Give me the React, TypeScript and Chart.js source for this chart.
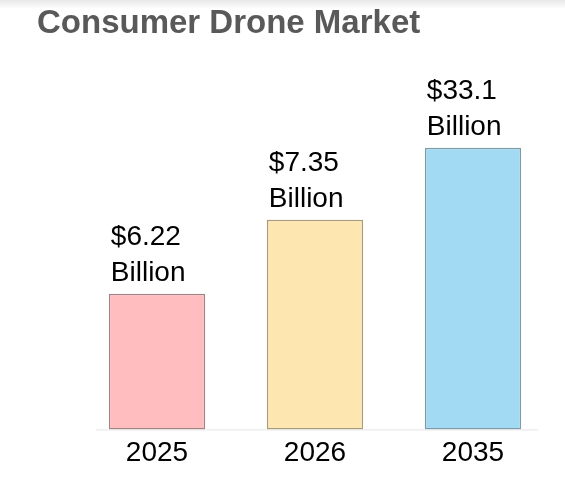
import React, { useEffect, useRef } from 'react';
import { Chart, registerables, Plugin } from 'chart.js';

Chart.register(...registerables);

// the reference does not draw bars to scale, so heights are read off the picture (tallest = 100)
const years = ['2025', '2026', '2035'];
const barHeights = [48.2, 74.5, 100];
const marketValues = ['$6.22', '$7.35', '$33.1'];
const valueUnit = 'Billion';

const fillColors = ['#ffbdc0', '#fee6b0', '#a2daf4'];
const borderColors = ['#a08484', '#a89b7c', '#7f9ba8'];

const FONT = '"Liberation Sans", Arial, sans-serif';

const valueLabels: Plugin<'bar'> = {
  id: 'valueLabels',
  beforeDraw(chart) {
    const { ctx, width } = chart;
    const g = ctx.createLinearGradient(0, 0, 0, 9);
    g.addColorStop(0, 'rgba(0,0,0,0.09)');
    g.addColorStop(1, 'rgba(0,0,0,0)');
    ctx.save();
    ctx.fillStyle = g;
    ctx.fillRect(0, 0, width, 9);
    ctx.restore();
  },
  beforeDatasetsDraw(chart) {
    const { ctx, chartArea } = chart;
    ctx.save();
    ctx.strokeStyle = '#e6e6e6';
    ctx.lineWidth = 1;
    ctx.beginPath();
    ctx.moveTo(chartArea.left + 18, chartArea.bottom + 0.5);
    ctx.lineTo(chartArea.right - 14, chartArea.bottom + 0.5);
    ctx.stroke();
    ctx.restore();
  },
  afterDatasetsDraw(chart) {
    const { ctx } = chart;
    const meta = chart.getDatasetMeta(0);
    ctx.save();
    ctx.fillStyle = '#000';
    ctx.font = `28px ${FONT}`;
    ctx.textAlign = 'left';
    ctx.textBaseline = 'alphabetic';
    meta.data.forEach((bar, i) => {
      const { x, y, width } = bar.getProps(['x', 'y', 'width'], true) as any;
      const left = x - width / 2 + 2;
      ctx.fillText(marketValues[i], left, y - 49);
      ctx.fillText(valueUnit, left, y - 13);
    });
    ctx.restore();
  },
};

const App: React.FC = () => {
  const canvasRef = useRef<HTMLCanvasElement | null>(null);
  const chartRef = useRef<Chart | null>(null);

  useEffect(() => {
    if (!canvasRef.current) return;
    if (chartRef.current) chartRef.current.destroy();

    chartRef.current = new Chart(canvasRef.current, {
      type: 'bar',
      data: {
        labels: years,
        datasets: [
          {
            data: barHeights,
            backgroundColor: fillColors,
            borderColor: borderColors,
            borderWidth: 1.5,
            borderSkipped: false,
            barPercentage: 0.61,
            categoryPercentage: 1,
          },
        ],
      },
      options: {
        responsive: false,
        animation: false,
        devicePixelRatio: 1,
        layout: { padding: { left: 37, right: 13, top: 0, bottom: 7 } },
        plugins: {
          legend: { display: false },
          tooltip: { enabled: false },
          title: {
            display: true,
            text: 'Consumer Drone Market',
            align: 'start',
            color: '#595959',
            font: { family: FONT, size: 33, weight: 'bold', lineHeight: 1.2 },
            padding: { top: 4, bottom: 17 },
          },
        },
        scales: {
          x: {
            grid: { display: false, drawTicks: false },
            border: { display: false },
            ticks: { color: '#000', font: { family: FONT, size: 28 }, padding: 7 },
          },
          y: {
            min: 0,
            max: 131,
            afterFit: (scale) => {
              scale.width = 41;
            },
            grid: { display: false, drawTicks: false },
            border: { display: false },
            ticks: { display: false },
          },
        },
      },
      plugins: [valueLabels],
    });

    return () => {
      if (chartRef.current) {
        chartRef.current.destroy();
        chartRef.current = null;
      }
    };
  }, []);

  return (
    <canvas
      ref={canvasRef}
      width={565}
      height={484}
      style={{ position: 'fixed', top: 0, left: 0, display: 'block', background: '#fff' }}
    />
  );
};

export default App;
